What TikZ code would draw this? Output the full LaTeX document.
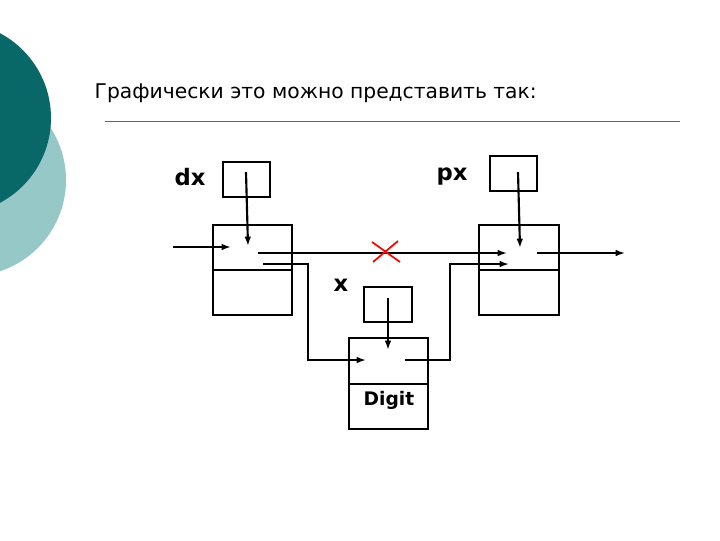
\documentclass[tikz,border=0pt]{standalone}
\usepackage{fontspec}
\setmainfont{DejaVu Sans}
\usetikzlibrary{arrows.meta}
\begin{document}
\begin{tikzpicture}[x=0.75pt,y=-0.75pt,
  box/.style={draw,line width=2.2pt},
  cell/.style={draw,line width=1.4pt},
  arr/.style={-{Latex[length=7pt,width=5pt]},line width=1.6pt},
  thin/.style={-{Latex[length=7pt,width=5pt]},line width=1.3pt},
  lbl/.style={font=\fontsize{17}{17}\selectfont\bfseries}]
\useasboundingbox (0,0) rectangle (720,540);
\fill[white] (0,0) rectangle (720,540);
\fill[color={rgb,255:red,150;green,200;blue,200}] (-30,180) circle (96);
\fill[color={rgb,255:red,8;green,104;blue,104}] (-45,118) circle (96);
\node[anchor=west,font=\fontsize{15.2}{16}\selectfont] (title) at (90,93) {Графически это можно представить так:};
\draw[black!60,line width=0.6pt] (105,121) -- (680,121);
% nodes
\draw[cell] (213,225) rectangle (292,315); \draw[cell] (213,270) -- (292,270);
\draw[cell] (479,225) rectangle (559,315); \draw[cell] (479,270) -- (559,270);
\draw[cell] (349,338) rectangle (428,429); \draw[cell] (349,384) -- (428,384);
\draw[box] (223,162) rectangle (270,197);
\draw[box] (490,156) rectangle (537,191);
\draw[box] (364,287) rectangle (412,322);
\node[lbl] (dx) at (190,177) {dx};
\node[lbl] (px) at (452,177) {px};
\node[lbl] (x) at (341,285) {x};
\node[font=\fontsize{14}{14}\selectfont\bfseries] (dg) at (389,400) {Digit};
% arrows
\coordinate (a1) at (173,247); \coordinate (a2) at (231,247);
\draw[arr] (a1) -- (a2);
\draw[arr] (246,172) -- (248,246);
\draw[arr] (518,172) -- (520,248);
\draw[arr] (388,298) -- (388,350);
\draw[thin] (258,253) -- (507,253);
\draw[thin] (537,253) -- (625,253);
\draw[thin] (263,264) -- (308,264) -- (308,360) -- (366,360);
\draw[thin] (405,360) -- (450,360) -- (450,264) -- (509,264);
\draw[red,line width=1.3pt] (372,242) -- (400,262) (373,262) -- (398,241);
\end{tikzpicture}
\end{document}
